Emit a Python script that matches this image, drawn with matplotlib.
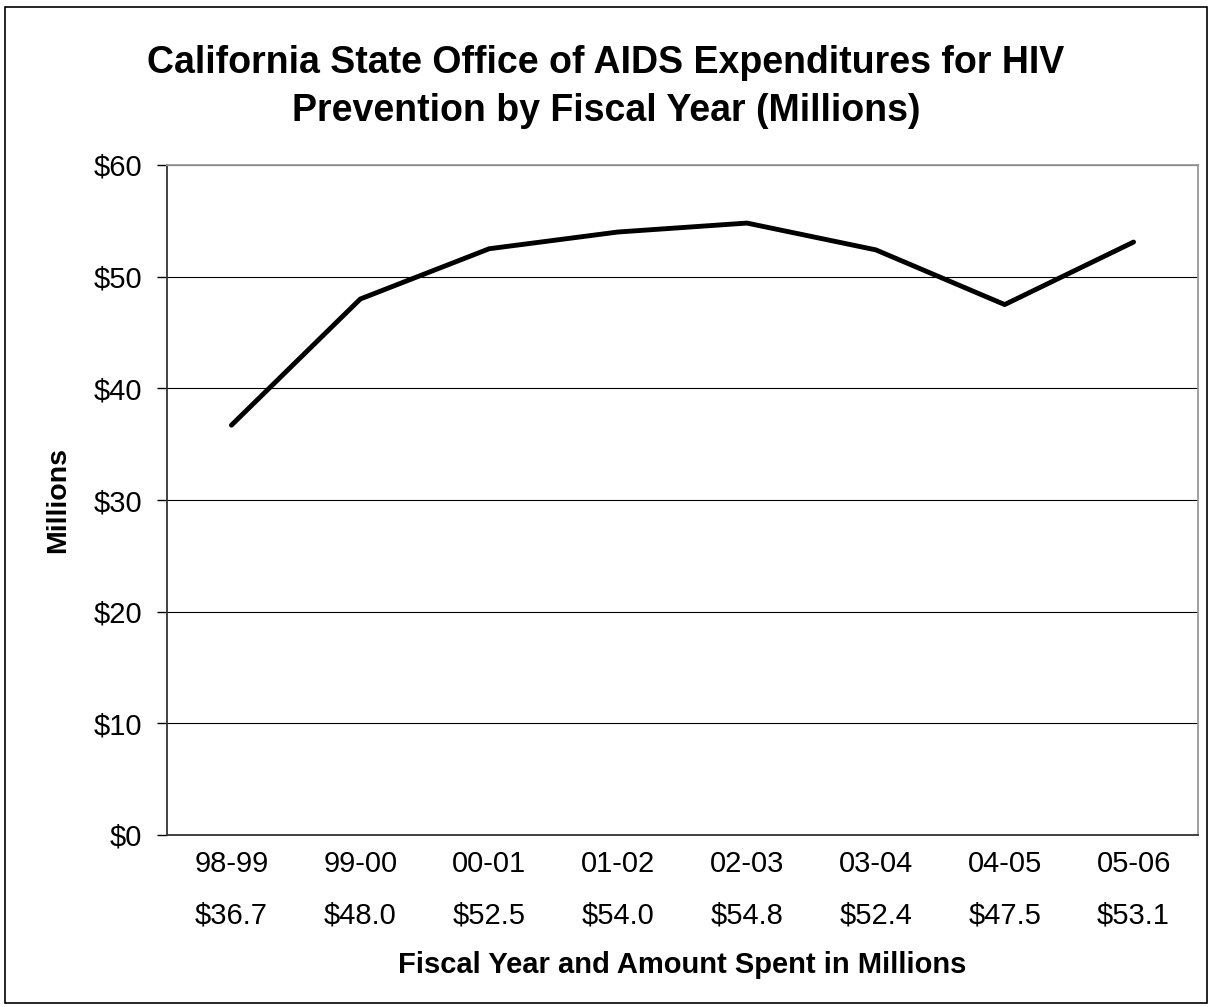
import matplotlib
matplotlib.use("Agg")
import matplotlib.pyplot as plt
from matplotlib.patches import Rectangle
from matplotlib.transforms import blended_transform_factory

years = ["98-99", "99-00", "00-01", "01-02", "02-03", "03-04", "04-05", "05-06"]
amounts = [36.7, 48.0, 52.5, 54.0, 54.8, 52.4, 47.5, 53.1]
yticks = [0, 10, 20, 30, 40, 50, 60]
title_lines = ["California State Office of AIDS Expenditures for HIV",
               "Prevention by Fiscal Year (Millions)"]

plt.rcParams['font.family'] = ['Liberation Sans', 'DejaVu Sans']

W, H = 1212, 1007
fig = plt.figure(figsize=(W / 100, H / 100), dpi=100)
L, R, T, B = 167, 1198, 165, 835
ax = fig.add_axes([L / W, 1 - B / H, (R - L) / W, (B - T) / H])

x = list(range(len(years)))
ax.plot(x, amounts, color='black', lw=3.5, solid_capstyle='round', solid_joinstyle='round', zorder=3)

ax.set_xlim(-0.5, len(years) - 0.5)
ax.set_ylim(0, 60)
ax.set_yticks(yticks)
ax.set_yticklabels([f"${v}" for v in yticks], fontsize=21)
ax.yaxis.grid(True, color='black', lw=0.8)
ax.set_axisbelow(True)
ax.tick_params(axis='y', length=7.2, width=1, pad=10.8)
ax.set_xticks([])

for s in ['left', 'bottom']:
    ax.spines[s].set_color('#333333')
    ax.spines[s].set_linewidth(1.3)
for s in ['top', 'right']:
    ax.spines[s].set_color('#999999')
    ax.spines[s].set_linewidth(1.3)

tr = blended_transform_factory(ax.transData, fig.transFigure)
for xi, yr, a in zip(x, years, amounts):
    ax.text(xi, 1 - 872 / H, yr, transform=tr, ha='center', va='baseline', fontsize=21)
    ax.text(xi, 1 - 923 / H, f"${a:.1f}", transform=tr, ha='center', va='baseline', fontsize=21)

cx = (L + R) / 2 / W
fig.text(cx, 1 - 973 / H, "Fiscal Year and Amount Spent in Millions",
         ha='center', va='baseline', fontsize=21, fontweight='bold')
fig.text(58 / W, 1 - ((T + B) / 2) / H, "Millions", rotation=90,
         ha='center', va='center', fontsize=20.5, fontweight='bold')

fig.text(0.5, 1 - 73 / H, title_lines[0], ha='center', va='baseline', fontsize=27, fontweight='bold')
fig.text(0.5, 1 - 121 / H, title_lines[1], ha='center', va='baseline', fontsize=27, fontweight='bold')

fig.patches.append(Rectangle((5 / W, 1 - 1003 / H), 1202 / W, 996 / H, transform=fig.transFigure,
                             fill=False, edgecolor='black', lw=1.2))

fig.savefig("out.png", dpi=100)
